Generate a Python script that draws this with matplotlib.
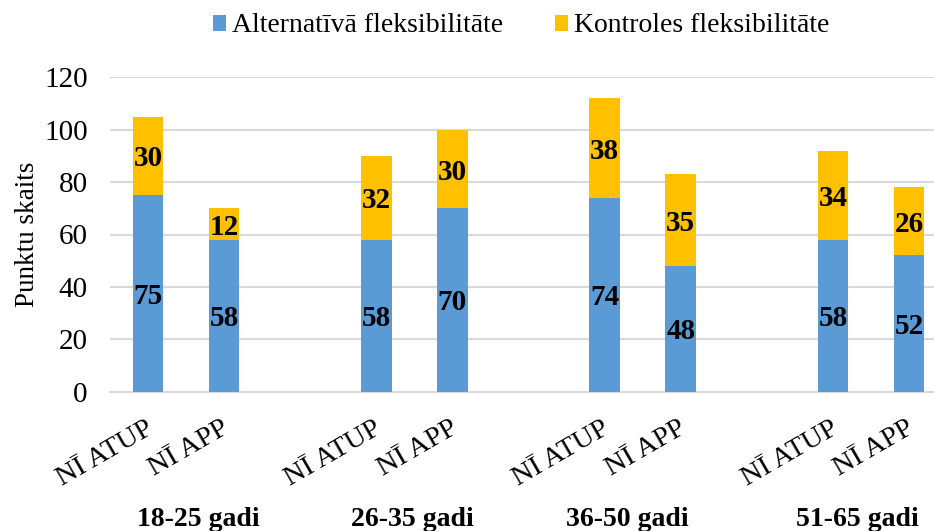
import matplotlib
matplotlib.use("Agg")
import matplotlib.pyplot as plt
from matplotlib.transforms import offset_copy
from matplotlib.patches import Patch
import numpy as np

plt.rcParams['font.family'] = ['Liberation Serif', 'DejaVu Serif']

groups = ["18-25 gadi", "26-35 gadi", "36-50 gadi", "51-65 gadi"]
bar_labels = ["NĪ ATUP", "NĪ APP"]
alternativa = [75, 58, 58, 70, 74, 48, 58, 52]
kontroles = [30, 12, 32, 30, 38, 35, 34, 26]
series_names = ["Alternatīvā fleksibilitāte", "Kontroles fleksibilitāte"]
yticks = [0, 20, 40, 60, 80, 100, 120]

blue = "#5B9BD5"
gold = "#FFC000"

W, H = 934, 531
fig = plt.figure(figsize=(W / 100, H / 100), dpi=100)
ax = fig.add_axes([110 / W, 139.3 / H, (W - 110) / W, (453.7 - 139.3) / H])

# positions: 2 bars per group, one empty slot between groups
pos = []
for g in range(len(groups)):
    pos += [g * 3, g * 3 + 1]
pos = np.array(pos)

width = 0.4
ax.bar(pos, alternativa, width, color=blue, zorder=3)
ax.bar(pos, kontroles, width, bottom=alternativa, color=gold, zorder=3)

lab_trans = offset_copy(ax.transData, fig=fig, x=0, y=-3, units='dots')
for x, a, k in zip(pos, alternativa, kontroles):
    ax.text(x, a / 2, str(a), transform=lab_trans, ha='center', va='center',
            fontsize=21, fontweight='bold', color='black', zorder=4)
    ax.text(x, a + k / 2, str(k), transform=lab_trans, ha='center', va='center',
            fontsize=21, fontweight='bold', color='black', zorder=4)

ax.set_ylim(0, 120)
ax.set_xlim(-0.5, 10 + 25 / 76)
ax.set_yticks(yticks)
ax.set_yticklabels([str(v) for v in yticks], fontsize=21)
ax.tick_params(axis='y', length=0, pad=16)
ax.set_xticks([])
ax.yaxis.grid(True, color='#d9d9d9', linewidth=1.5, zorder=0)
ax.set_axisbelow(True)
for s in ['top', 'right', 'left']:
    ax.spines[s].set_visible(False)
ax.spines['bottom'].set_color('#d9d9d9')
ax.spines['bottom'].set_linewidth(1.5)

ax.set_ylabel("Punktu skaits", fontsize=19.5, labelpad=3)

# rotated category labels
trans = ax.get_xaxis_transform()
for i, x in enumerate(pos):
    t = offset_copy(trans, fig=fig, x=-3, y=-24, units='dots')
    ax.text(x, 0, bar_labels[i % 2], transform=t, rotation=30,
            rotation_mode='anchor', ha='right', va='top', fontsize=20.5)

# group labels (small horizontal shifts as in the original layout)
label_shift_px = [12, -2, -15, -14]
for g, name in enumerate(groups):
    cx = (pos[2 * g] + pos[2 * g + 1]) / 2
    t = offset_copy(trans, fig=fig, x=label_shift_px[g], y=-128, units='dots')
    ax.text(cx, 0, name, transform=t, ha='center', va='center', fontsize=20,
            fontweight='bold')

handles = [Patch(facecolor=blue), Patch(facecolor=gold)]
fig.legend(handles, series_names, loc='center', bbox_to_anchor=(521 / W, 1 - 26 / H),
           ncol=2, frameon=False, fontsize=20, handlelength=0.5, handleheight=0.5,
           handletextpad=0.2, columnspacing=1.85, borderpad=0, borderaxespad=0)

fig.savefig("out.png", dpi=100)
